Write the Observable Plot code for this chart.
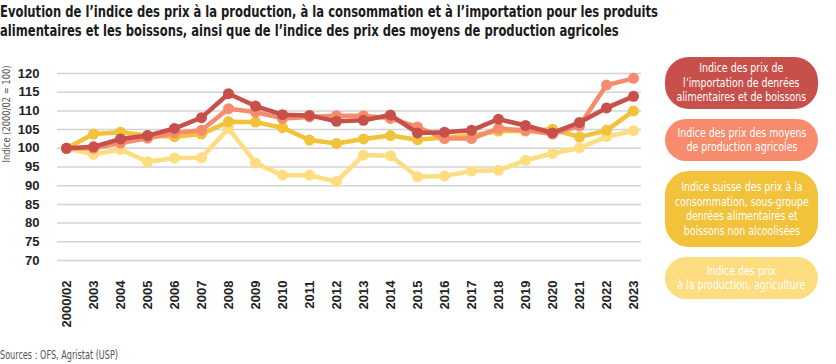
<!DOCTYPE html>
<html>
<head>
<meta charset="utf-8">
<script src="https://cdn.jsdelivr.net/npm/d3@7"></script>
<script src="https://cdn.jsdelivr.net/npm/@observablehq/plot@0.6"></script>
<style>
  html, body { margin: 0; padding: 0; background: #fff; }
  #wrap { position: relative; width: 836px; height: 364px; overflow: hidden; font-family: "DejaVu Sans Condensed", "DejaVu Sans", sans-serif; }
  #title { position: absolute; left: 0; top: 2px; font-size: 16.5px; font-weight: bold; line-height: 19px; color: #1a1a1a; white-space: nowrap; transform-origin: 0 0; }
  #ylabel { position: absolute; left: 6px; top: 114px; white-space: nowrap; font-size: 11px; color: #555; }
  #source { position: absolute; left: 0; top: 348px; font-size: 12px; color: #555; white-space: nowrap; transform-origin: 0 0; }
  #chart { position: absolute; left: 0; top: 0; }
  .pill { position: absolute; left: 665px; width: 153px; border-radius: 24px; color: #fff; text-align: center; font-size: 12.5px; line-height: 14.5px; display: flex; align-items: center; justify-content: center; box-sizing: border-box; }
  .pill .inner { white-space: nowrap; }
</style>
</head>
<body>
<div id="wrap">
  <div id="chart"></div>
  <div id="title"></div>
  <div id="ylabel"></div>
  <div id="source"></div>
  <div id="legend"></div>
</div>
<script>
const titleLines = [
  "Evolution de l’indice des prix à la production, à la consommation et à l’importation pour les produits",
  "alimentaires et les boissons, ainsi que de l’indice des prix des moyens de production agricoles"
];
const yAxisLabel = "Indice (2000/02 = 100)";
const sourceText = "Sources : OFS, Agristat (USP)";

const categories = ["2000/02","2003","2004","2005","2006","2007","2008","2009","2010","2011","2012",
  "2013","2014","2015","2016","2017","2018","2019","2020","2021","2022","2023"];

const importPrices = [100, 100.4, 102.5, 103.4, 105.3, 108.2, 114.6, 111.3, 109.0, 108.8, 107.2,
  107.5, 108.9, 104.1, 104.3, 104.8, 107.8, 106.1, 104.1, 106.9, 110.8, 113.9];
const inputPrices = [100, 100.0, 101.4, 102.7, 104.1, 104.8, 110.6, 109.7, 108.0, 108.4, 108.7,
  108.7, 108.0, 105.7, 102.6, 102.6, 105.3, 104.8, 103.8, 106.0, 116.9, 118.7];
const consumerPrices = [100, 103.8, 104.3, 103.4, 103.1, 103.8, 107.1, 107.0, 105.5, 102.2, 101.3,
  102.5, 103.4, 102.3, 102.9, 103.4, 104.6, 104.6, 105.1, 103.0, 104.8, 110.0];
const producerPrices = [100, 98.4, 99.7, 96.4, 97.4, 97.5, 105.3, 96.1, 92.8, 92.8, 91.1,
  98.2, 98.0, 92.4, 92.6, 93.9, 94.1, 96.8, 98.6, 100.1, 103.1, 104.7];

const yTicks = [70, 75, 80, 85, 90, 95, 100, 105, 110, 115, 120];

const seriesLabels = [
  ["Indice des prix de", "l’importation de denrées", "alimentaires et de boissons"],
  ["Indice des prix des moyens", "de production agricoles"],
  ["Indice suisse des prix à la", "consommation, sous-groupe", "denrées alimentaires et", "boissons non alcoolisées"],
  ["Indice des prix", "à la production, agriculture"]
];
const seriesColors = ["#c8504b", "#f68c6d", "#f1c23a", "#fddd80"];
const seriesValues = [importPrices, inputPrices, consumerPrices, producerPrices];

const rows = [];
seriesValues.forEach((vals, s) => {
  vals.forEach((v, i) => rows.push({series: s, cat: categories[i], value: v}));
});

const drawOrder = [3, 2, 1, 0];
const seriesMarks = [];
for (const s of drawOrder) {
  const data = rows.filter(r => r.series === s);
  seriesMarks.push(Plot.line(data, {x: "cat", y: "value", stroke: seriesColors[s], strokeWidth: 4.5, strokeLinejoin: "round"}));
  seriesMarks.push(Plot.dot(data, {x: "cat", y: "value", fill: seriesColors[s], r: 5.5}));
}

const chart = Plot.plot({
  width: 836,
  height: 364,
  marginLeft: 57,
  marginRight: 195,
  marginTop: 73,
  marginBottom: 104,
  style: {background: "transparent", fontFamily: "'Liberation Sans', Arial, sans-serif", overflow: "visible"},
  x: {type: "point", domain: categories, padding: 0},
  y: {domain: [70, 120]},
  marks: [
    Plot.gridY(yTicks, {stroke: "#d3d3d3", strokeOpacity: 1, strokeWidth: 1.5}),
    Plot.axisY(yTicks, {tickSize: 0, tickPadding: 18, fontSize: 13, fontWeight: "bold", label: null, fill: "#222"}),
    Plot.axisX({tickRotate: -90, tickSize: 0, tickPadding: 20, fontSize: 13, fontWeight: "bold", label: null, fill: "#222", textAnchor: "end"}),
    ...seriesMarks
  ]
});
document.getElementById("chart").appendChild(chart);

const title = document.getElementById("title");
title.innerHTML = titleLines.map(t => "<span style='display:inline-block'>" + t + "</span>").join("<br>");
const tw = title.querySelector("span").getBoundingClientRect().width;
title.style.transform = "scaleX(" + (658 / tw) + ")";

const yl = document.getElementById("ylabel");
yl.textContent = yAxisLabel;
const yw = yl.getBoundingClientRect().width;
yl.style.transform = "translate(-50%, -50%) rotate(-90deg) scaleX(" + (97 / yw) + ")";

const src = document.getElementById("source");
src.textContent = sourceText;
const sw = src.getBoundingClientRect().width;
src.style.transform = "scaleX(" + (118 / sw) + ")";

const pillBoxes = [[57, 52], [119, 42], [171, 76], [257, 42]];
const legend = document.getElementById("legend");
const inners = [];
seriesLabels.forEach((lines, i) => {
  const d = document.createElement("div");
  d.className = "pill";
  d.style.top = pillBoxes[i][0] + "px";
  d.style.height = pillBoxes[i][1] + "px";
  d.style.background = seriesColors[i];
  const inner = document.createElement("div");
  inner.className = "inner";
  inner.innerHTML = lines.join("<br>");
  d.appendChild(inner);
  legend.appendChild(d);
  inners.push(inner);
});
const refW = inners[2].getBoundingClientRect().width;
const k = 134 / refW;
inners.forEach(n => n.style.transform = "scaleX(" + k + ")");
</script>
</body>
</html>
